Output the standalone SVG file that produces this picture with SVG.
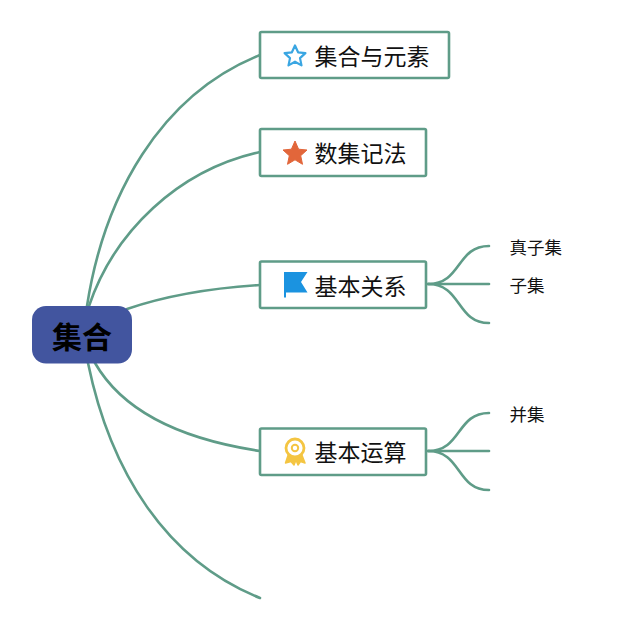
<svg xmlns="http://www.w3.org/2000/svg" width="640" height="631" viewBox="0 0 640 631">
<style>
.c{fill:none;stroke:#5f9c88;stroke-width:2.600;stroke-linecap:round}
.b{fill:#fff;stroke:#5f9c88;stroke-width:2.600}
text{font-family:"Noto Sans CJK SC","Liberation Sans",sans-serif;fill:#111}
.t{font-size:23px}
.s{font-size:17.500px}
</style>
<rect width="640" height="631" fill="#fff"/>
<g id="connectors">
<path class="c" d="M87 306C104 196 160 95 260 55"/>
<path class="c" d="M89 306C114 232 178 170 260 152"/>
<path class="c" d="M127 309C165 296 212 288 260 285"/>
<path class="c" d="M95 363C122 410 180 439 260 451"/>
<path class="c" d="M88 363C110 470 165 560 260 598"/>
<path class="c" d="M428 284C462 284 456 246 489 246"/>
<path class="c" d="M428 284H489"/>
<path class="c" d="M428 284C462 284 456 323 489 323"/>
<path class="c" d="M428 451C462 451 456 413 489 413"/>
<path class="c" d="M428 451H489"/>
<path class="c" d="M428 451C462 451 456 490 489 490"/>
</g>
<g id="root">
<rect x="32" y="306" width="100" height="57.500" rx="14" fill="#42559f"/>
<text x="82" y="348" font-size="30" font-weight="700" text-anchor="middle" style="fill:#000">集合</text>
</g>
<g id="node-1">
<rect class="b" x="260" y="32" width="189" height="46" rx="1.500"/>
<path d="M295 45.500L298.100 52.300L305.400 53.100L300 58.100L301.500 65.400L295 61.700L288.500 65.400L290 58.100L284.600 53.100L291.900 52.300Z" fill="none" stroke="#3aa6e2" stroke-width="2.200" stroke-linejoin="round"/>
<text class="t" x="314.500" y="65">集合与元素</text>
</g>
<g id="node-2">
<rect class="b" x="260" y="129" width="166" height="47" rx="1.500"/>
<path d="M295 141L298.600 149.200L307 150L300.700 155.700L302.500 164.300L295 159.800L287.500 164.300L289.300 155.700L283 150L291.400 149.200Z" fill="#e2663a" stroke="#e2663a" stroke-linejoin="round"/>
<text class="t" x="314.500" y="162">数集记法</text>
</g>
<g id="node-3">
<rect class="b" x="260" y="261.500" width="166" height="46.500" rx="1.500"/>
<path d="M284 272H307.500L301 282L307.500 292.500H286V297.500H284Z" fill="#1b93e0"/>
<text class="t" x="314.500" y="295">基本关系</text>
</g>
<g id="node-4">
<rect class="b" x="260" y="428.500" width="166" height="46.500" rx="1.500"/>
<path d="M288.500 454L285.500 463L291 461.500L294 465L296 460L298 465L300.500 461.500L305 463L301.500 454Z" fill="#f4c542" stroke="#f4c542" stroke-width="1.500" stroke-linejoin="round"/>
<circle cx="295" cy="448" r="9" fill="#fff" stroke="#f4c542" stroke-width="2.800"/>
<circle cx="295" cy="448" r="3.200" fill="none" stroke="#f4c542" stroke-width="2"/>
<text class="t" x="314.500" y="461">基本运算</text>
</g>
<g id="leaf-1"><text class="s" x="509.500" y="254">真子集</text></g>
<g id="leaf-2"><text class="s" x="509.500" y="292">子集</text></g>
<g id="leaf-3"><text class="s" x="509.500" y="421">并集</text></g>
</svg>
